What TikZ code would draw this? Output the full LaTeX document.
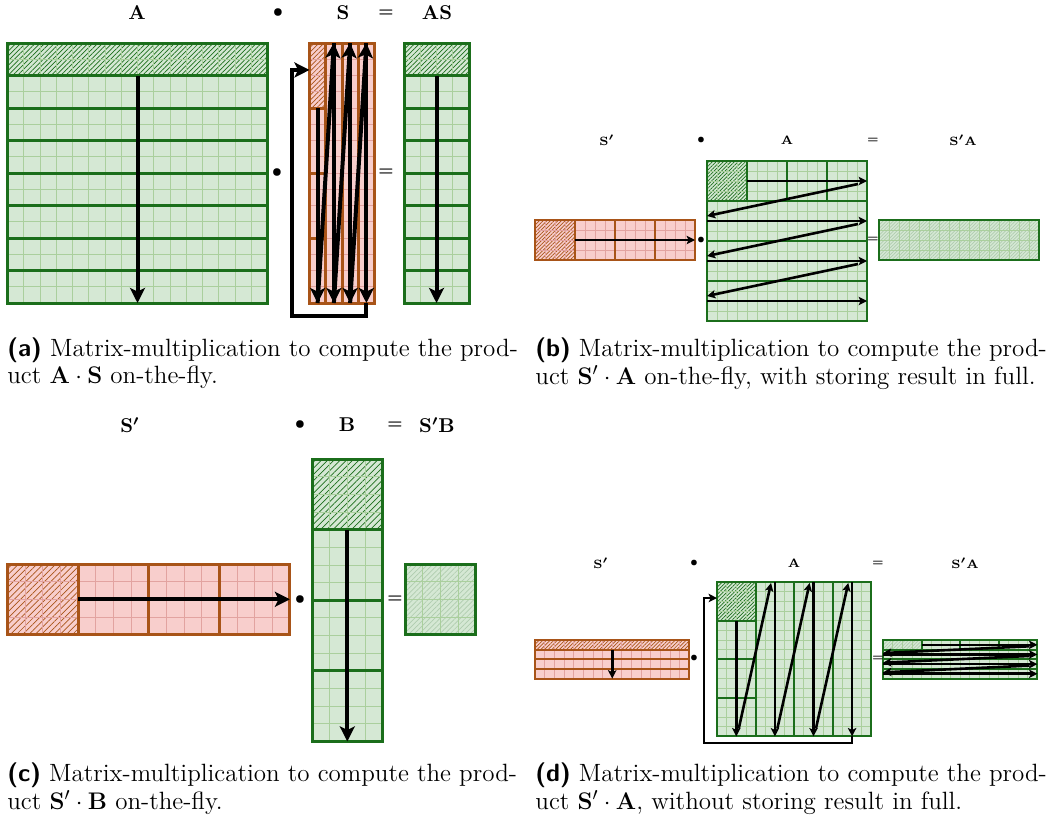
\documentclass[tikz,border=0pt]{standalone}
\usepackage{amsmath}
\usetikzlibrary{arrows.meta, patterns.meta}

\definecolor{gfill}{HTML}{D5E8D4}
\definecolor{gline}{HTML}{AACF9D}
\definecolor{gedge}{HTML}{1B6E1B}
\definecolor{rfill}{HTML}{F8CECC}
\definecolor{rline}{HTML}{E2A3A0}
\definecolor{redge}{HTML}{A85418}

\begin{document}
\begin{tikzpicture}[
    x=0.5pt, y=-0.5pt,
    % cells and block borders
    fineg/.style={draw=gline, line width=0.4pt},
    finer/.style={draw=rline, line width=0.4pt},
    edgeg/.style={draw=gedge},
    edger/.style={draw=redge},
    % hatched (active) blocks
    hatchg/.style={pattern={Lines[angle=45, distance=#1, line width=0.35pt]}, pattern color=gedge},
    hatchg/.default=1.7pt,
    hatchr/.style={pattern={Lines[angle=45, distance=#1, line width=0.35pt]}, pattern color=redge},
    hatchr/.default=1.7pt,
    hatchf/.style={pattern={Lines[angle=45, distance=#1, line width=0.35pt]}, pattern color=gedge!35},
    hatchf/.default=1.2pt,
    % traversal arrows
    flow/.style={line width=2pt, -{Stealth[length=7.5pt, width=7.5pt, inset=1.8pt]}},
    smallflow/.style={line width=1.3pt, -{Stealth[length=4.2pt, width=4.2pt, inset=1pt]}},
    % texts
    biglab/.style={font=\fontsize{10}{12}\selectfont\boldmath},
    bigop/.style={font=\fontsize{8}{10}\selectfont\boldmath},
    smalllab/.style={font=\fontsize{6.5}{7.5}\selectfont\boldmath},
    smallop/.style={font=\fontsize{5}{6}\selectfont\boldmath},
    captext/.style={font=\fontsize{12.5}{14}\selectfont, align=left, inner sep=0pt, anchor=north west}
]
\useasboundingbox (0,0) rectangle (1047,819);

% ----- (a) A . S -----
\begin{scope}[line width=1.5pt]
  % A
  \begin{scope}[shift={(7.5,43)}, x=8.125pt, y=-8.125pt]
    \fill[gfill] (0,0) rectangle (16,16);
    \fill[hatchg] (0,0) rectangle (16,2);
    \foreach \k in {1,...,15} \draw[fineg] (\k,0) -- (\k,16) (0,\k) -- (16,\k);
    \foreach \k in {2,4,...,14} \draw[edgeg] (0,\k) -- (16,\k);
    \draw[edgeg] (0,0) rectangle (16,16);
    \draw[flow] (8,2) -- (8,16);
  \end{scope}
  % S
  \begin{scope}[shift={(309.5,43)}, x=8.125pt, y=-8.125pt]
    \fill[rfill] (0,0) rectangle (4,16);
    \fill[hatchr] (0,0) rectangle (1,4);
    \foreach \k in {1,...,15} \draw[finer] (0,\k) -- (4,\k);
    \foreach \k in {1,2,3} \draw[edger] (\k,0) -- (\k,16);
    \foreach \k in {4,8,12} \draw[edger] (0,\k) -- (1,\k);
    \draw[edger] (0,0) rectangle (4,16);
    \draw[flow] (0.5,4) -- (0.5,16);
    \foreach \c in {0.5,1.5,2.5} {
      \draw[flow] (\c,16) -- (\c+1,0);
      \draw[flow] (\c+1,0) -- (\c+1,16);
    }
    \draw[flow] (3.5,16) -- (3.5,16.8) -- (-1.08,16.8) -- (-1.08,1.66) -- (0,1.66);
  \end{scope}
  % AS
  \begin{scope}[shift={(404,43)}, x=8.125pt, y=-8.125pt]
    \fill[gfill] (0,0) rectangle (4,16);
    \fill[hatchg] (0,0) rectangle (4,2);
    \foreach \k in {1,...,15} \draw[fineg] (0,\k) -- (4,\k);
    \foreach \k in {1,2,3} \draw[fineg] (\k,0) -- (\k,16);
    \foreach \k in {2,4,...,14} \draw[edgeg] (0,\k) -- (4,\k);
    \draw[edgeg] (0,0) rectangle (4,16);
    \draw[flow] (2,2) -- (2,16);
  \end{scope}
\end{scope}
\node[biglab] (a_A)   at (137,13) {$\mathbf{A}$};
\node[bigop]  (a_dot) at (278,13) {$\bullet$};
\node[biglab] (a_S)   at (343,13) {$\mathbf{S}$};
\node[bigop]  (a_eq)  at (386,13) {$=$};
\node[biglab] (a_AS)  at (437,13) {$\mathbf{AS}$};
\node[bigop]  (a_op1) at (277,173) {$\bullet$};
\node[bigop]  (a_op2) at (386,172) {$=$};

% ----- (b) S' . A, result in full -----
\begin{scope}[line width=1pt]
  % S'
  \begin{scope}[shift={(535,220)}, x=5pt, y=-5pt]
    \fill[rfill] (0,0) rectangle (16,4);
    \fill[hatchr=1.3pt] (0,0) rectangle (4,4);
    \foreach \k in {1,...,15} \draw[finer] (\k,0) -- (\k,4);
    \foreach \k in {1,2,3} \draw[finer] (0,\k) -- (16,\k);
    \foreach \k in {4,8,12} \draw[edger] (\k,0) -- (\k,4);
    \draw[edger] (0,0) rectangle (16,4);
    \draw[smallflow] (4,2) -- (16,2);
  \end{scope}
  % A
  \begin{scope}[shift={(707,161)}, x=5pt, y=-5pt]
    \fill[gfill] (0,0) rectangle (16,16);
    \fill[hatchg=1.3pt] (0,0) rectangle (4,4);
    \foreach \k in {1,...,15} \draw[fineg] (\k,0) -- (\k,16) (0,\k) -- (16,\k);
    \foreach \k in {4,8,12} \draw[edgeg] (\k,0) -- (\k,4) (0,\k) -- (16,\k);
    \draw[edgeg] (0,0) rectangle (16,16);
    \draw[smallflow] (4,2) -- (16,2);
    \foreach \r in {2,6,10} {
      \draw[smallflow] (15.1,\r+0.3) -- (0,\r+3.5);
      \draw[smallflow] (0,\r+4) -- (16,\r+4);
    }
  \end{scope}
  % S'A
  \begin{scope}[shift={(879,220)}, x=5pt, y=-5pt]
    \fill[gfill] (0,0) rectangle (16,4);
    \fill[hatchf] (0,0) rectangle (16,4);
    \foreach \k in {1,...,15} \draw[fineg] (\k,0) -- (\k,4);
    \foreach \k in {1,2,3} \draw[fineg] (0,\k) -- (16,\k);
    \draw[edgeg] (0,0) rectangle (16,4);
  \end{scope}
\end{scope}
\node[smalllab] (b_S)   at (607,140) {$\mathbf{S}'$};
\node[smallop]  (b_dot) at (701,140) {$\bullet$};
\node[smalllab] (b_A)   at (787,140) {$\mathbf{A}$};
\node[smallop]  (b_eq)  at (873,140) {$=$};
\node[smalllab] (b_SA)  at (963,140) {$\mathbf{S}'\mathbf{A}$};
\node[smallop]  (b_op1) at (701,240) {$\bullet$};
\node[smallop]  (b_op2) at (873,239) {$=$};

% ----- (c) S' . B -----
\begin{scope}[line width=1.5pt]
  % S'
  \begin{scope}[shift={(7.5,564)}, x=8.825pt, y=-8.825pt]
    \fill[rfill] (0,0) rectangle (16,4);
    \fill[hatchr=2.2pt] (0,0) rectangle (4,4);
    \foreach \k in {1,...,15} \draw[finer] (\k,0) -- (\k,4);
    \foreach \k in {1,2,3} \draw[finer] (0,\k) -- (16,\k);
    \foreach \k in {4,8,12} \draw[edger] (\k,0) -- (\k,4);
    \draw[edger] (0,0) rectangle (16,4);
    \draw[flow] (4,2) -- (16,2);
  \end{scope}
  % B
  \begin{scope}[shift={(312,459)}, x=8.825pt, y=-8.825pt]
    \fill[gfill] (0,0) rectangle (4,16);
    \fill[hatchg=2.2pt] (0,0) rectangle (4,4);
    \foreach \k in {1,...,15} \draw[fineg] (0,\k) -- (4,\k);
    \foreach \k in {1,2,3} \draw[fineg] (\k,0) -- (\k,16);
    \foreach \k in {4,8,12} \draw[edgeg] (0,\k) -- (4,\k);
    \draw[edgeg] (0,0) rectangle (4,16);
    \draw[flow] (2,4) -- (2,16);
  \end{scope}
  % S'B
  \begin{scope}[shift={(405,564)}, x=8.825pt, y=-8.825pt]
    \fill[gfill] (0,0) rectangle (4,4);
    \fill[hatchf=1.8pt] (0,0) rectangle (4,4);
    \foreach \k in {1,2,3} \draw[fineg] (\k,0) -- (\k,4) (0,\k) -- (4,\k);
    \draw[edgeg] (0,0) rectangle (4,4);
  \end{scope}
\end{scope}
\node[biglab] (c_S)   at (130,425) {$\mathbf{S}'$};
\node[bigop]  (c_dot) at (300,425) {$\bullet$};
\node[biglab] (c_B)   at (347,425) {$\mathbf{B}$};
\node[bigop]  (c_eq)  at (395,425) {$=$};
\node[biglab] (c_SB)  at (437,425) {$\mathbf{S}'\mathbf{B}$};
\node[bigop]  (c_op1) at (300,600) {$\bullet$};
\node[bigop]  (c_op2) at (395,599) {$=$};

% ----- (d) S' . A, result not in full -----
\begin{scope}[line width=1pt]
  % S'
  \begin{scope}[shift={(535,640)}, x=4.825pt, y=-4.825pt]
    \fill[rfill] (0,0) rectangle (16,4);
    \fill[hatchr=1.3pt] (0,0) rectangle (16,1);
    \foreach \k in {1,...,15} \draw[finer] (\k,0) -- (\k,4);
    \foreach \k in {1,2,3} \draw[edger] (0,\k) -- (16,\k);
    \draw[edger] (0,0) rectangle (16,4);
    \draw[smallflow] (8,1) -- (8,4);
  \end{scope}
  % A
  \begin{scope}[shift={(717,582)}, x=4.825pt, y=-4.825pt]
    \fill[gfill] (0,0) rectangle (16,16);
    \fill[hatchg=1.3pt] (0,0) rectangle (4,4);
    \foreach \k in {1,...,15} \draw[fineg] (\k,0) -- (\k,16) (0,\k) -- (16,\k);
    \foreach \k in {4,8,12} \draw[edgeg] (\k,0) -- (\k,16) (0,\k) -- (4,\k);
    \draw[edgeg] (0,0) rectangle (16,16);
    \draw[smallflow] (2,4) -- (2,16);
    \foreach \c in {2,6,10} {
      \draw[smallflow] (\c+0.25,15.2) -- (\c+3.6,0.1);
      \draw[smallflow] (\c+4,0) -- (\c+4,16);
    }
    \draw[smallflow] (14,16) -- (14,16.7) -- (-1.35,16.7) -- (-1.35,1.66) -- (0,1.66);
  \end{scope}
  % S'A
  \begin{scope}[shift={(883,640)}, x=4.825pt, y=-4.825pt]
    \fill[gfill] (0,0) rectangle (16,4);
    \fill[hatchf] (0,0) rectangle (4,1);
    \foreach \k in {1,...,15} \draw[fineg] (\k,0) -- (\k,4);
    \foreach \k in {4,8,12} \draw[edgeg] (\k,0) -- (\k,1);
    \foreach \k in {1,2,3} \draw[edgeg] (0,\k) -- (16,\k);
    \draw[edgeg] (0,0) rectangle (16,4);
    \draw[smallflow] (4,0.5) -- (16,0.5);
    \foreach \r in {0.5,1.5,2.5} {
      \draw[smallflow] (15.2,\r+0.15) -- (0,\r+0.85);
      \draw[smallflow] (0,\r+1) -- (16,\r+1);
    }
  \end{scope}
\end{scope}
\node[smalllab] (d_S)   at (601,563) {$\mathbf{S}'$};
\node[smallop]  (d_dot) at (694,563) {$\bullet$};
\node[smalllab] (d_A)   at (794,563) {$\mathbf{A}$};
\node[smallop]  (d_eq)  at (878,563) {$=$};
\node[smalllab] (d_SA)  at (965,563) {$\mathbf{S}'\mathbf{A}$};
\node[smallop]  (d_op1) at (694,658) {$\bullet$};
\node[smallop]  (d_op2) at (878,658) {$=$};

% ----- captions -----
\node[captext] (cap_a) at (7,337) {\textsf{\bfseries (a)} Matrix-multiplication to compute the prod-};
\node[captext] (cap_a2) at (7,365) {uct $\mathbf{A}\cdot\mathbf{S}$ on-the-fly.};
\node[captext] (cap_b) at (535,337) {\textsf{\bfseries (b)} Matrix-multiplication to compute the prod-};
\node[captext] (cap_b2) at (535,365) {uct $\mathbf{S}'\cdot\mathbf{A}$ on-the-fly, with storing result in full.};
\node[captext] (cap_c) at (7,762) {\textsf{\bfseries (c)} Matrix-multiplication to compute the prod-};
\node[captext] (cap_c2) at (7,790) {uct $\mathbf{S}'\cdot\mathbf{B}$ on-the-fly.};
\node[captext] (cap_d) at (535,762) {\textsf{\bfseries (d)} Matrix-multiplication to compute the prod-};
\node[captext] (cap_d2) at (535,790) {uct $\mathbf{S}'\cdot\mathbf{A}$, without storing result in full.};

\end{tikzpicture}
\end{document}
